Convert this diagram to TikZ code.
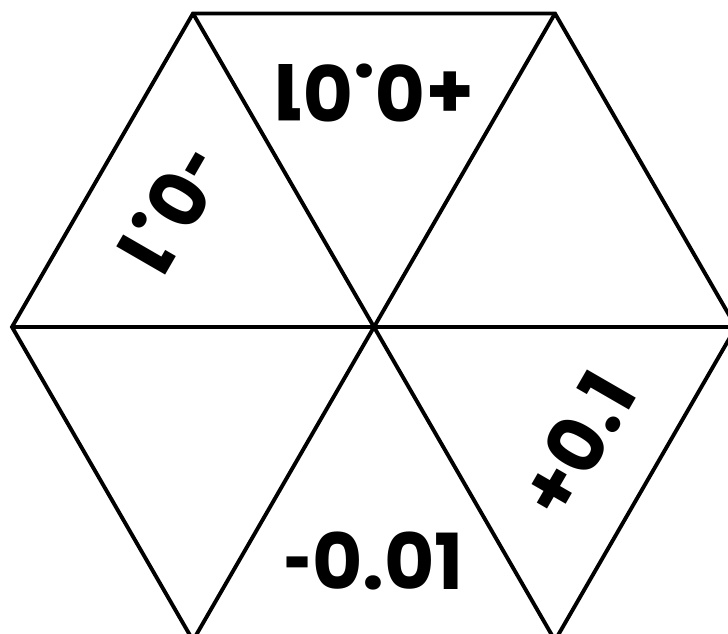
\documentclass[tikz,border=0pt]{standalone}
\usepackage{fontspec}
\newfontfamily\polyfont{Poppins}
\usepackage{tikz}
\usetikzlibrary{calc}
\tikzset{every picture/.style={line width=0.75pt}}
\tikzset{
  edge/.style={line width=2.2pt,black,line join=miter},
  tri text/.style={font=\polyfont\bfseries\fontsize{44}{52}\selectfont,inner sep=0,anchor=center}
}
\newcommand*{\shortdash}{\scalebox{0.62}[1]{-}}
\def\hexR{362}
\def\txtR{234}

\begin{document}
\begin{tikzpicture}[x=0.02cm,y=0.02cm]

  % Frame
  \useasboundingbox (0,0) rectangle (728,634);
  \clip (0,0) rectangle (728,634);

  % Corners of the hexagon
  \coordinate (c) at (374,307);
  \foreach \k in {0,...,5}
    \coordinate (v\k) at ($(c)+(60*\k:\hexR)$);

  % Outline and diagonals
  \draw[edge] (v0) -- (v1) -- (v2) -- (v3) -- (v4) -- (v5) -- cycle;
  \draw[edge] (v0) -- (v3);
  \draw[edge] (v1) -- (v4);
  \draw[edge] (v2) -- (v5);

  % Labels, tops toward the centre
  \node[tri text, rotate=180] (top)   at ($(c)+(90:\txtR)$)  {+0.01};
  \node[tri text, rotate=240] (topl)  at ($(c)+(150:\txtR)$) {\shortdash0.1};
  \node[tri text]             (bot)   at ($(c)+(270:\txtR)$) {\shortdash0.01};
  \node[tri text, rotate=60]  (botr)  at ($(c)+(330:\txtR)$) {+0.1};
\end{tikzpicture}
\end{document}
